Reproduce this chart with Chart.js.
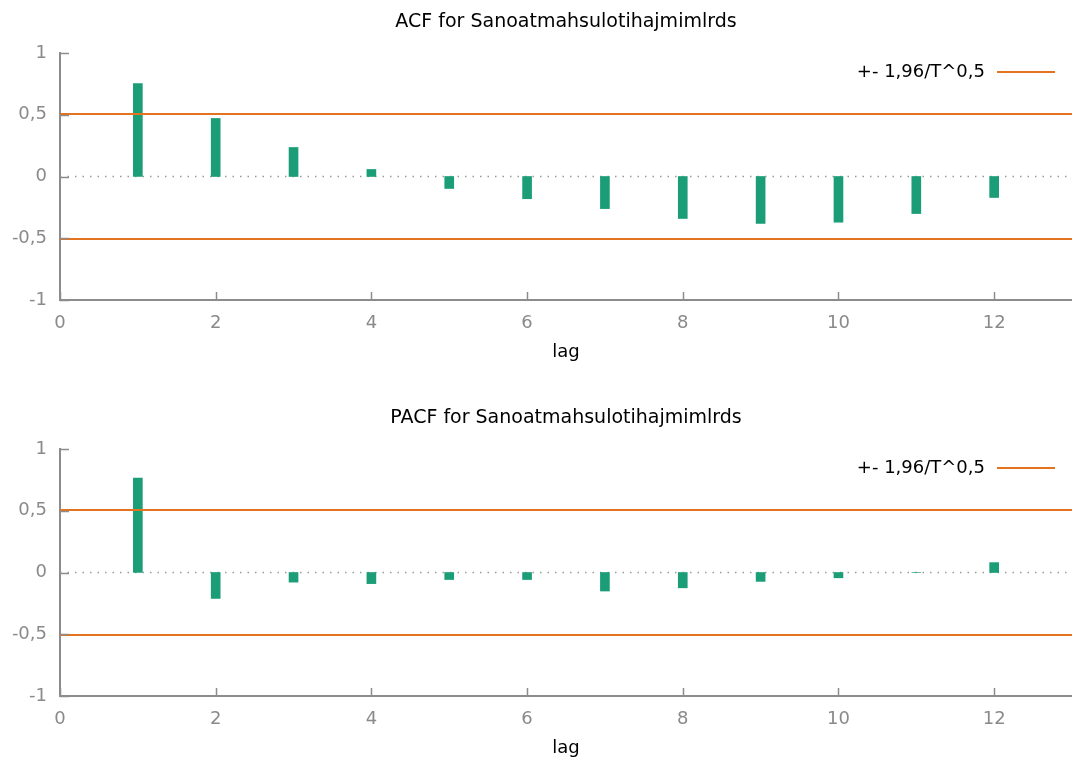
<!DOCTYPE html>
<html>
<head>
<meta charset="utf-8">
<script src="https://cdn.jsdelivr.net/npm/chart.js@4.4.0/dist/chart.umd.min.js"></script>
<style>
  body { margin: 0; background: #fff; overflow: hidden; }
  .box { position: absolute; left: 0; width: 1072px; height: 380px; }
  #acfBox { top: 0; }
  #pacfBox { top: 396px; }
</style>
</head>
<body>
<div class="box" id="acfBox"><canvas id="acfChart"></canvas></div>
<div class="box" id="pacfBox"><canvas id="pacfChart"></canvas></div>
<script>
// Data
const lags = [1, 2, 3, 4, 5, 6, 7, 8, 9, 10, 11, 12];
const acfValues = [0.753, 0.47, 0.235, 0.057, -0.097, -0.18, -0.26, -0.34, -0.38, -0.37, -0.30, -0.17];
const pacfValues = [0.765, -0.21, -0.078, -0.09, -0.057, -0.057, -0.15, -0.124, -0.072, -0.043, 0.0, 0.08];
const confBand = 0.506;
const xTicks = [0, 2, 4, 6, 8, 10, 12];
const yTicks = [-1, -0.5, 0, 0.5, 1];
const legendText = '+- 1,96/T^0,5';

const green = '#1b9e77';
const orange = '#e3731f';
const axisGray = '#8c8c8c';
const font = 'DejaVu Sans';

// Titles, inward tick marks and legend
const decorPlugin = {
    id: 'decor',
    afterDraw(chart, args, opts) {
        const ctx = chart.ctx;
        const area = chart.chartArea;
        const xs = chart.scales.x, ys = chart.scales.y;
        ctx.save();
        // tick marks pointing inward
        ctx.strokeStyle = axisGray;
        ctx.lineWidth = 1.5;
        xTicks.forEach(t => {
            const px = Math.round(xs.getPixelForValue(t)) + 0.5;
            ctx.beginPath();
            ctx.moveTo(px, area.bottom);
            ctx.lineTo(px, area.bottom - 8);
            ctx.stroke();
        });
        yTicks.forEach(t => {
            const py = Math.round(ys.getPixelForValue(t)) + 0.5;
            ctx.beginPath();
            ctx.moveTo(area.left, py);
            ctx.lineTo(area.left + 9, py);
            ctx.stroke();
        });
        // title
        ctx.fillStyle = '#000';
        ctx.font = '19px "' + font + '"';
        ctx.textAlign = 'center';
        ctx.textBaseline = 'middle';
        ctx.fillText(opts.title, (area.left + area.right) / 2, 22);
        // axis label
        ctx.font = '18px "' + font + '"';
        ctx.fillText('lag', (area.left + area.right) / 2, area.bottom + 52);
        // legend
        ctx.textAlign = 'right';
        ctx.fillText(legendText, 985, 72);
        ctx.strokeStyle = orange;
        ctx.lineWidth = 2;
        ctx.beginPath();
        ctx.moveTo(997, 72);
        ctx.lineTo(1055, 72);
        ctx.stroke();
        ctx.restore();
    }
};

function makeCorrChart(canvasId, values, title) {
    const ctx = document.getElementById(canvasId).getContext('2d');
    return new Chart(ctx, {
        type: 'bar',
        data: {
            datasets: [{
                type: 'line',
                data: [{ x: 0, y: 0 }, { x: 13, y: 0 }],
                borderColor: '#9a9a9a',
                borderWidth: 1.5,
                borderDash: [1.5, 6],
                pointRadius: 0,
                order: 3
            }, {
                type: 'line',
                data: [{ x: 0, y: confBand }, { x: 13, y: confBand }],
                borderColor: orange,
                borderWidth: 2,
                pointRadius: 0,
                order: 1
            }, {
                type: 'line',
                data: [{ x: 0, y: -confBand }, { x: 13, y: -confBand }],
                borderColor: orange,
                borderWidth: 2,
                pointRadius: 0,
                order: 1
            }, {
                type: 'bar',
                data: lags.map((l, i) => ({ x: l, y: values[i] })),
                backgroundColor: green,
                barThickness: 9,
                order: 2
            }]
        },
        options: {
            responsive: true,
            maintainAspectRatio: false,
            animation: false,
            layout: { padding: { top: 53, right: 0, left: 0, bottom: 0 } },
            plugins: {
                legend: { display: false },
                tooltip: { enabled: false },
                decor: { title: title }
            },
            scales: {
                x: {
                    type: 'linear',
                    min: 0,
                    max: 13,
                    offset: false,
                    grid: { display: false },
                    border: { color: axisGray, width: 2 },
                    afterFit: s => { s.height = 80; },
                    ticks: {
                        stepSize: 2,
                        includeBounds: false,
                        padding: 5,
                        color: '#8a8a8a',
                        font: { family: font, size: 18 }
                    }
                },
                y: {
                    min: -1,
                    max: 1,
                    grid: { display: false },
                    border: { color: axisGray, width: 2 },
                    afterFit: s => { s.width = 60; },
                    ticks: {
                        stepSize: 0.5,
                        padding: 5,
                        color: '#8a8a8a',
                        font: { family: font, size: 18 },
                        callback: v => String(v).replace('.', ',')
                    }
                }
            }
        },
        plugins: [decorPlugin]
    });
}

makeCorrChart('acfChart', acfValues, 'ACF for Sanoatmahsulotihajmimlrds');
makeCorrChart('pacfChart', pacfValues, 'PACF for Sanoatmahsulotihajmimlrds');
</script>
</body>
</html>
